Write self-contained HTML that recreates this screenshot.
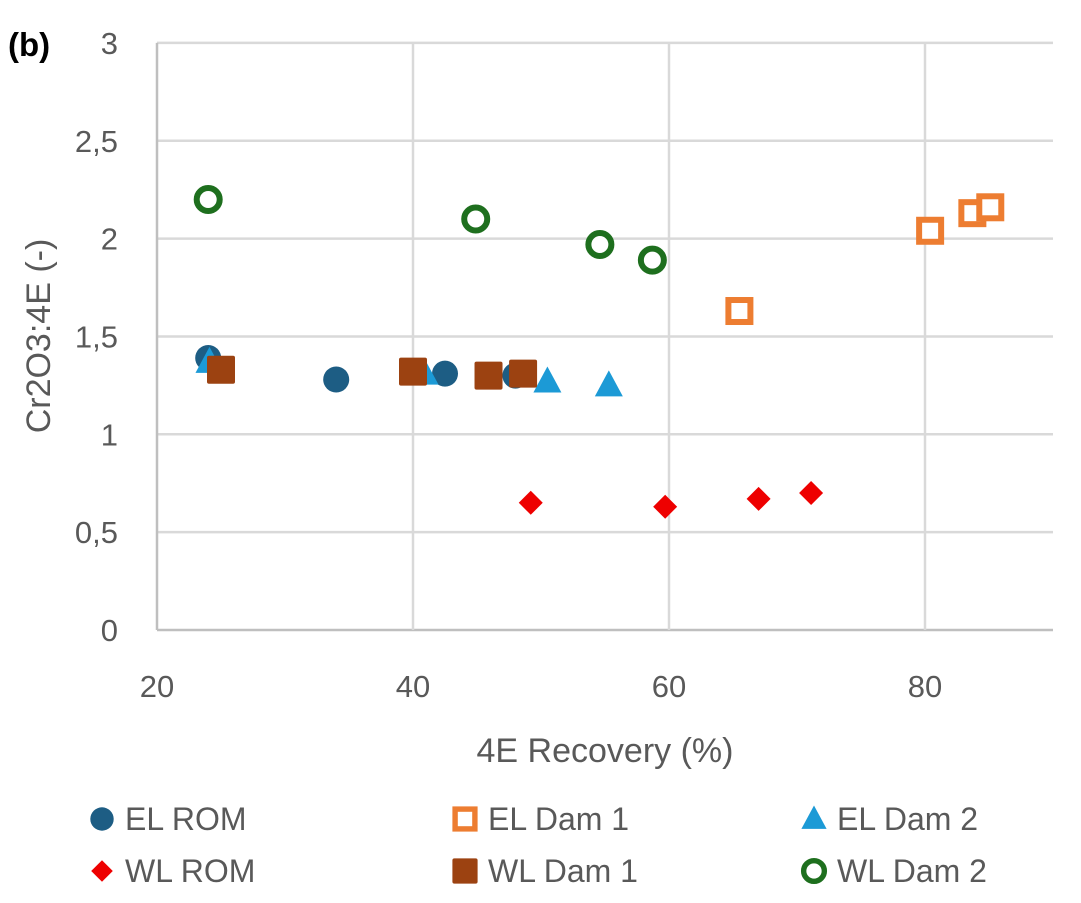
<!DOCTYPE html>
<html><head><meta charset="utf-8"><style>
body{margin:0;background:#fff;font-family:"Liberation Sans",sans-serif}
svg text{font-family:"Liberation Sans",sans-serif;fill:#595959}
</style></head><body>
<svg id="chart" width="1081" height="898">
<text x="8" y="56" font-size="33" font-weight="bold" style="fill:#000">(b)</text>
<g id="grid"></g>
<g id="ticks"></g>
<text x="605" y="762" font-size="34" text-anchor="middle">4E Recovery (%)</text>
<text transform="translate(50,336) rotate(-90)" font-size="34" text-anchor="middle">Cr2O3:4E (-)</text>
<g id="marks"></g>
<g id="legend"></g>
</svg>
<script>
const xTicks=[20,40,60,80];
const yTicks=[0,0.5,1,1.5,2,2.5,3];
const yTickLabels=["0","0,5","1","1,5","2","2,5","3"];
const seriesNames=["EL ROM","EL Dam 1","EL Dam 2","WL ROM","WL Dam 1","WL Dam 2"];
const elRomX=[24,34,42.5,48], elRomY=[1.39,1.28,1.31,1.30];
const elDam1X=[65.5,80.4,83.7,85.1], elDam1Y=[1.63,2.04,2.13,2.16];
const elDam2X=[24.1,40.9,50.5,55.3], elDam2Y=[1.37,1.31,1.27,1.25];
const wlRomX=[49.2,59.7,67,71.1], wlRomY=[0.65,0.63,0.67,0.70];
const wlDam1X=[25,40,45.9,48.6], wlDam1Y=[1.33,1.32,1.30,1.31];
const wlDam2X=[24,44.9,54.6,58.7], wlDam2Y=[2.20,2.10,1.97,1.89];

const NS="http://www.w3.org/2000/svg";
const X=v=>157+(v-20)*12.8;
const Y=v=>630-v*195.7;
function mk(tag,attrs,parent){const e=document.createElementNS(NS,tag);for(const k in attrs)e.setAttribute(k,attrs[k]);parent.appendChild(e);return e;}
const grid=document.getElementById('grid'),ticks=document.getElementById('ticks'),marks=document.getElementById('marks'),legend=document.getElementById('legend');
yTicks.forEach((t,i)=>{
  const l=mk('line',{x1:157,x2:1053,y1:Y(t),y2:Y(t),stroke:t===0?'#bfbfbf':'#d9d9d9','stroke-width':2.5},grid);
  
  
  const tx=mk('text',{x:118,y:Y(t)+11,'font-size':31,'text-anchor':'end'},ticks);tx.textContent=yTickLabels[i];
  
  
});
xTicks.forEach(t=>{
  const l=mk('line',{x1:X(t),x2:X(t),y1:Y(3),y2:Y(0),stroke:t===20?'#bfbfbf':'#d9d9d9','stroke-width':2.5},grid);
  
  
  const tx=mk('text',{x:X(t),y:697,'font-size':31,'text-anchor':'middle'},ticks);tx.textContent=t;
  
  
});
function shape(type,cx,cy,p,s){
  s=s||1;let e;
  if(type==='circle')e=mk('circle',{cx,cy,r:13*s,fill:'#1d5d84'},p);
  else if(type==='osq')e=mk('rect',{x:cx-11*s,y:cy-11*s,width:22*s,height:22*s,fill:'#fff',stroke:'#ed7d31','stroke-width':6*s},p);
  else if(type==='tri')e=mk('polygon',{points:`${cx},${cy-15*s} ${cx+14*s},${cy+11*s} ${cx-14*s},${cy+11*s}`,fill:'#1c9ad6'},p);
  else if(type==='dia')e=mk('polygon',{points:`${cx},${cy-12*s} ${cx+12*s},${cy} ${cx},${cy+12*s} ${cx-12*s},${cy}`,fill:'#ee0000'},p);
  else if(type==='sq')e=mk('rect',{x:cx-14*s,y:cy-14*s,width:28*s,height:28*s,rx:2,fill:'#9c4211'},p);
  else e=mk('circle',{cx,cy,r:11.5*s,fill:'#fff',stroke:'#1e6f1e','stroke-width':6*s},p);
  return e;
}
const series=[[elRomX,elRomY,'circle'],[elDam1X,elDam1Y,'osq'],[elDam2X,elDam2Y,'tri'],[wlRomX,wlRomY,'dia'],[wlDam1X,wlDam1Y,'sq'],[wlDam2X,wlDam2Y,'ocirc']];
series.forEach((s,si)=>{
  s[0].forEach((x,i)=>{
    const e=shape(s[2],X(x),Y(s[1][i]),marks);
    
    
  });
});
const legPos=[[102,819],[465,819],[814,819],[102,871],[465,871],[814,871]];
seriesNames.forEach((n,i)=>{
  const g=mk('g',{},legend);
  
  
  shape(series[i][2],legPos[i][0],legPos[i][1],g,0.9);
  const t=mk('text',{x:legPos[i][0]+23,y:legPos[i][1]+11,'font-size':32},g);t.textContent=n;
});
</script>
</body></html>
